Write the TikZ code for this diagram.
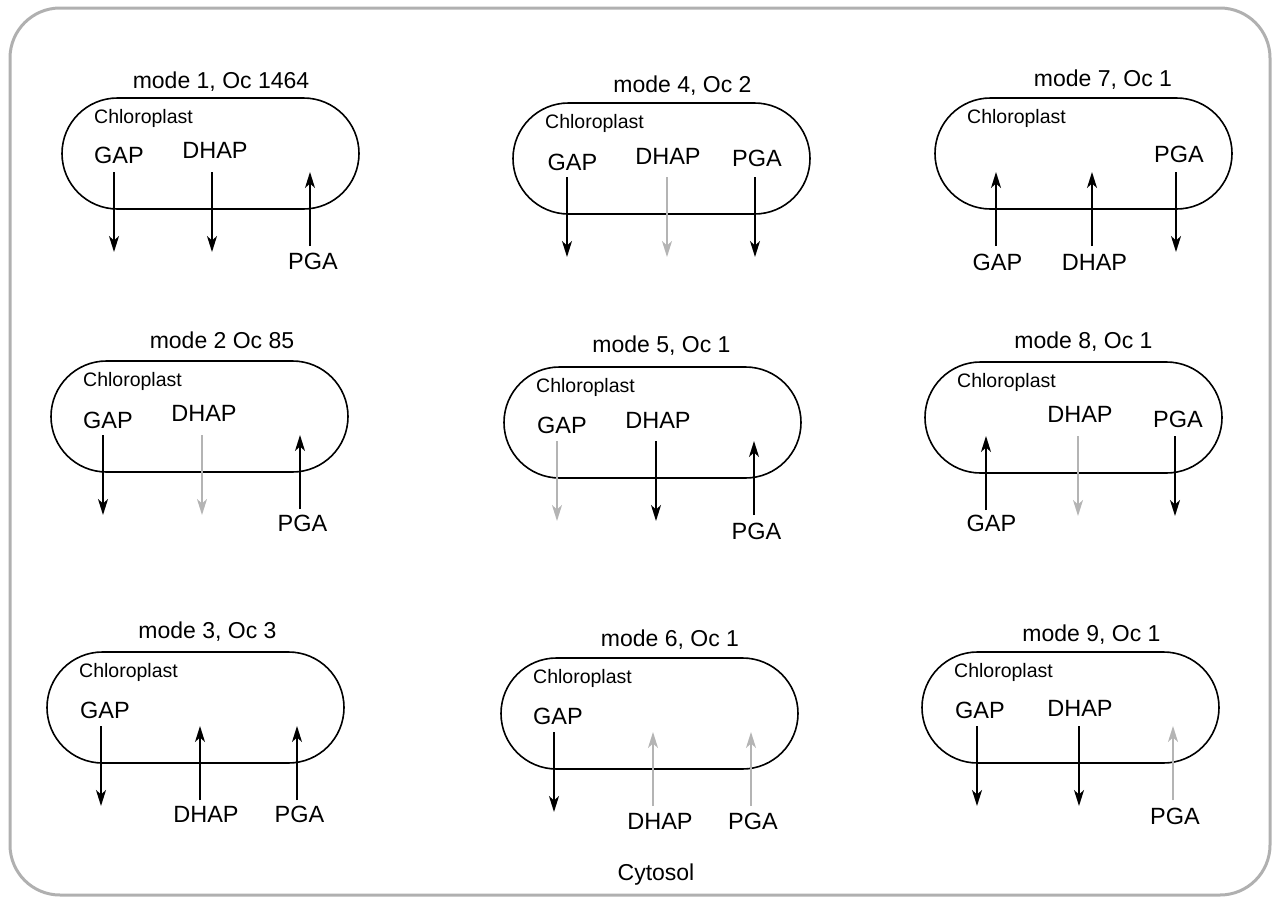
\documentclass[tikz,border=0pt]{standalone}
\usepackage{fontspec}
\setmainfont{Liberation Sans}
\usetikzlibrary{arrows.meta}
\definecolor{framegray}{HTML}{B0B0B0}
\definecolor{arrgray}{HTML}{B4B4B4}
\tikzset{
  pillbox/.style={draw=black, line width=1.6pt, rounded corners=55.5pt,
    minimum width=297pt, minimum height=111pt, inner sep=0pt},
  titletext/.style={font=\fontsize{23}{27}\selectfont, inner sep=0pt},
  chl/.style={font=\fontsize{19.5}{23}\selectfont, inner sep=0pt},
  met/.style={font=\fontsize{23.5}{27}\selectfont, inner sep=0pt},
  arr/.style={line width=1.8pt, -{Stealth[length=16pt,width=10pt,inset=4.5pt]}},
  frame/.style={draw=framegray, line width=3pt, rounded corners=50pt}
}
\newcommand{\pill}[4]{%
  \node[pillbox] (#1) at (148.5,55.5) {};
  \node[titletext] (#1-t) at (#2,#3) {#4};
  \node[chl, anchor=west] (#1-c) at (32,20) {Chloroplast};}
\newcommand{\outward}[6]{%
  \node[met] (#1) at (#4,#5) {#2};
  \coordinate (#1-s) at (#3,74);
  \coordinate (#1-e) at (#3,154);
  \draw[arr,#6] (#1-s) -- (#1-e);}
\newcommand{\inward}[6]{%
  \node[met] (#1) at (#4,#5) {#2};
  \coordinate (#1-s) at (#3,148);
  \coordinate (#1-e) at (#3,74);
  \draw[arr,#6] (#1-s) -- (#1-e);}
\begin{document}
\begin{tikzpicture}[x=1pt,y=-1pt]
\useasboundingbox (0,0) rectangle (1275,897);
\draw[frame] (10,8) rectangle (1270,895);

% mode 1
\begin{scope}[shift={(62,98)}]
\pill{m1}{159}{-16}{mode 1, Oc 1464}
\outward{m1gap}{GAP}{52}{57}{57}{black}
\outward{m1dhap}{DHAP}{150}{153}{52}{black}
\inward{m1pga}{PGA}{248}{251}{163}{black}
\end{scope}

% mode 4
\begin{scope}[shift={(513,103)}]
\pill{m4}{169.5}{-17}{mode 4, Oc 2}
\outward{m4gap}{GAP}{54}{59.5}{59}{black}
\outward{m4dhap}{DHAP}{154}{155}{53}{arrgray}
\outward{m4pga}{PGA}{242}{244}{55}{black}
\end{scope}

% mode 7
\begin{scope}[shift={(935,98)}]
\pill{m7}{168}{-18}{mode 7, Oc 1}
\inward{m7gap}{GAP}{61}{62.5}{164}{black}
\inward{m7dhap}{DHAP}{157}{159.5}{164}{black}
\outward{m7pga}{PGA}{241}{244}{56}{black}
\end{scope}

% mode 2
\begin{scope}[shift={(51,361)}]
\pill{m2}{171}{-21}{mode 2 Oc 85}
\outward{m2gap}{GAP}{52}{57}{59}{black}
\outward{m2dhap}{DHAP}{151}{153}{52}{arrgray}
\inward{m2pga}{PGA}{249}{251.5}{162}{black}
\end{scope}

% mode 5
\begin{scope}[shift={(504,367)}]
\pill{m5}{157.5}{-21}{mode 5, Oc 1}
\outward{m5gap}{GAP}{53}{58}{58}{arrgray}
\outward{m5dhap}{DHAP}{152}{154}{53}{black}
\inward{m5pga}{PGA}{250}{252.5}{164}{black}
\end{scope}

% mode 8
\begin{scope}[shift={(925,362)}]
\pill{m8}{158.5}{-20}{mode 8, Oc 1}
\inward{m8gap}{GAP}{61}{66.5}{161}{black}
\outward{m8dhap}{DHAP}{153}{155}{52}{arrgray}
\outward{m8pga}{PGA}{250}{253}{57}{black}
\end{scope}

% mode 3
\begin{scope}[shift={(47,652)}]
\pill{m3}{160.5}{-20}{mode 3, Oc 3}
\outward{m3gap}{GAP}{54}{58}{58}{black}
\inward{m3dhap}{DHAP}{153}{159}{162}{black}
\inward{m3pga}{PGA}{250}{252.5}{162}{black}
\end{scope}

% mode 6
\begin{scope}[shift={(501,658)}]
\pill{m6}{169}{-18}{mode 6, Oc 1}
\outward{m6gap}{GAP}{53}{57}{58}{black}
\inward{m6dhap}{DHAP}{152}{159}{163}{arrgray}
\inward{m6pga}{PGA}{250}{252}{163}{arrgray}
\end{scope}

% mode 9
\begin{scope}[shift={(922,652)}]
\pill{m9}{169.5}{-17}{mode 9, Oc 1}
\outward{m9gap}{GAP}{55}{58}{58}{black}
\outward{m9dhap}{DHAP}{157}{158}{56}{black}
\inward{m9pga}{PGA}{251}{253}{164}{arrgray}
\end{scope}

\node[met, font=\fontsize{23}{27}\selectfont] (cyto) at (656,875) {Cytosol};
\end{tikzpicture}
\end{document}
